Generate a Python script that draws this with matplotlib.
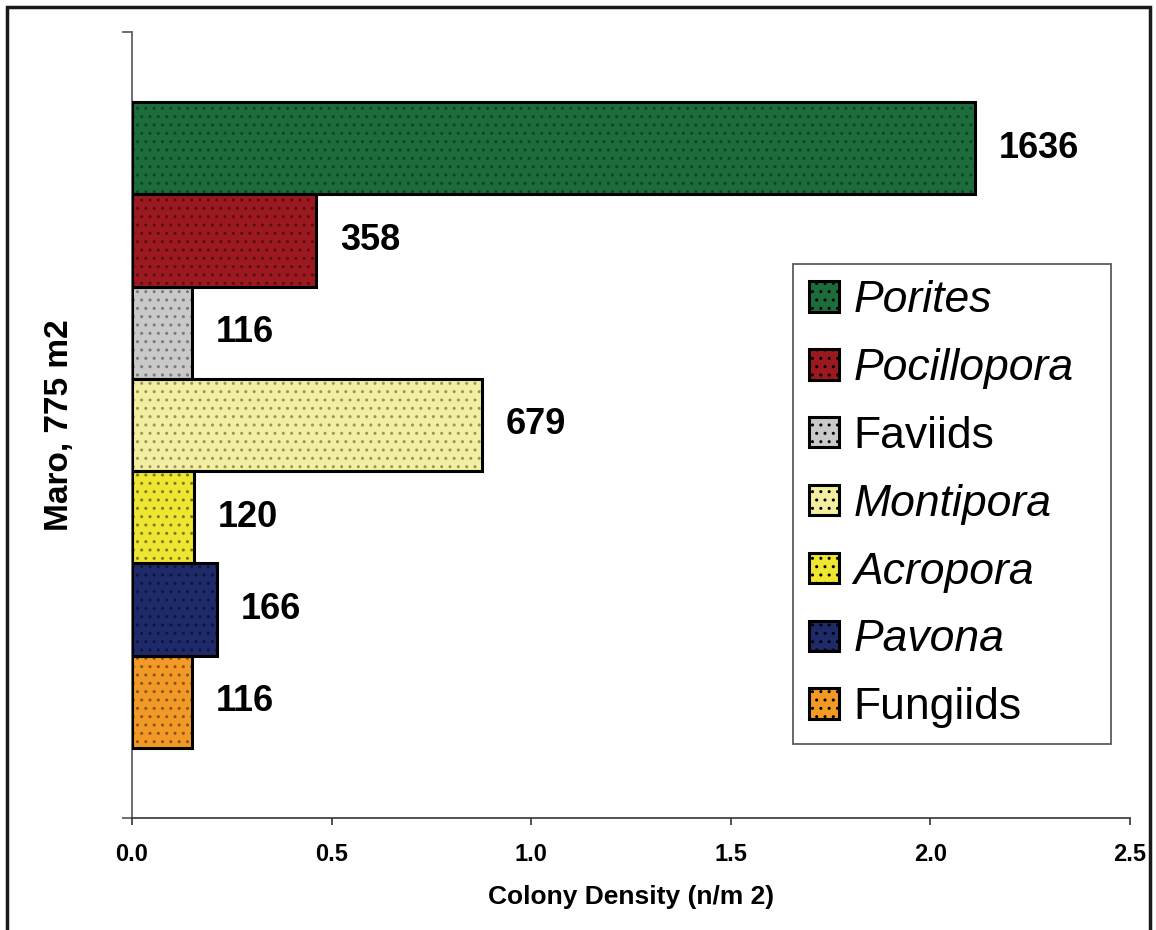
import matplotlib
matplotlib.use("Agg")
import matplotlib.pyplot as plt
from matplotlib.patches import Patch, Rectangle

plt.rcParams['font.family'] = ['Liberation Sans', 'DejaVu Sans']
plt.rcParams['hatch.linewidth'] = 1.0

# data
genera = ["Porites", "Pocillopora", "Faviids", "Montipora", "Acropora", "Pavona", "Fungiids"]
italic = [True, True, False, True, True, True, False]
colonies = [1636, 358, 116, 679, 120, 166, 116]
density = [2.111, 0.462, 0.150, 0.876, 0.155, 0.214, 0.150]
site_label = "Maro, 775 m2"
x_ticks = [0.0, 0.5, 1.0, 1.5, 2.0, 2.5]

colors = ['#1d6c3b', '#9c1a1f', '#c9c9c9', '#f4efa0', '#eee631', '#1f2a69', '#f39a26']
dot_colors = ['#0f4425', '#5a0e11', '#7a7a7a', '#9a9560', '#7d7a20', '#0e1540', '#8a5518']

W, H = 1156, 930
fig = plt.figure(figsize=(W / 100, H / 100), dpi=100)
ax = fig.add_axes([132 / W, 1 - 818 / H, (1130 - 132) / W, (818 - 32) / H])

ypos = list(range(len(genera) - 1, -1, -1))
# filled bars with dot pattern, then outlines on top
ax.barh(ypos, density, height=1.0, color=colors, edgecolor=dot_colors,
        hatch='..', linewidth=0, zorder=2)
ax.barh(ypos, density, height=1.0, color='none', edgecolor='black',
        linewidth=2.2, zorder=3)

for y, v, n in zip(ypos, density, colonies):
    ax.annotate(str(n), (v, y), xytext=(17, 0), textcoords='offset points',
                ha='left', va='center', fontsize=26, fontweight='bold')

pad = 70 / 92.3
ax.set_ylim(-0.5 - pad, len(genera) - 0.5 + pad)
ax.set_xlim(0, 2.5)
ax.set_xticks(x_ticks)
ax.set_xticklabels(["%.1f" % t for t in x_ticks], fontsize=17, fontweight='bold')
ax.set_yticks(ax.get_ylim())
ax.set_yticklabels([])
ax.tick_params(axis='x', direction='out', length=5, width=1.2, pad=13, color='#333333')
ax.tick_params(axis='y', direction='out', length=7, width=1.2, color='#555555')

for s in ['top', 'right']:
    ax.spines[s].set_visible(False)
ax.spines['left'].set_color('#555555')
ax.spines['bottom'].set_color('#333333')
ax.spines['left'].set_linewidth(1.2)
ax.spines['bottom'].set_linewidth(1.2)

ax.set_xlabel("Colony Density (n/m 2)", fontsize=19, fontweight='bold', labelpad=14)
ax.set_ylabel(site_label, fontsize=24, fontweight='bold')
ax.yaxis.set_label_coords(-0.057, 0.5)

handles = [Patch(facecolor=c, edgecolor='black', hatch='..', linewidth=2.2)
           for c in colors]
x0 = (793 - 132) / 998
x1 = (1111 - 132) / 998
ytop = (818 - 264) / 786
leg = ax.legend(handles, genera, loc='upper left', mode='expand',
                bbox_to_anchor=(x0, ytop - 0.6, x1 - x0, 0.6),
                fontsize=32, frameon=True, fancybox=False, shadow=False,
                handlelength=0.68, handleheight=0.68, handletextpad=0.32,
                labelspacing=0.605, borderpad=0.36, borderaxespad=0)
leg.get_frame().set_edgecolor('#333333')
leg.get_frame().set_linewidth(1.3)
for t, it in zip(leg.get_texts(), italic):
    if it:
        t.set_fontstyle('italic')

# outer frame around the chart
fig.add_artist(Rectangle((7 / W, -0.05), (1150 - 7) / W, 1.05 - 7 / H,
                         transform=fig.transFigure, fill=False,
                         edgecolor='#1a1a1a', linewidth=2.5))

fig.savefig("out.png", dpi=100)
